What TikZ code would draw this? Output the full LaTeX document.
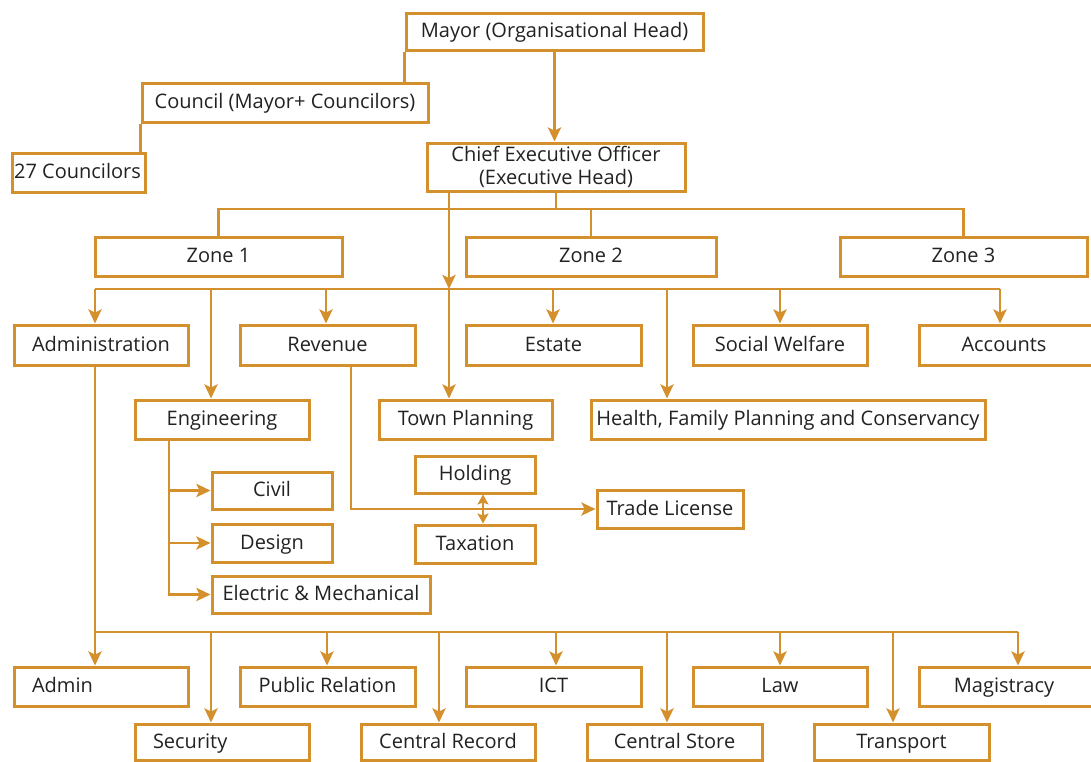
\documentclass[tikz,border=0pt]{standalone}
\usepackage{fontspec}
\setmainfont{Open Sans}
\usetikzlibrary{arrows.meta}
\definecolor{gold}{HTML}{D4902C}
\definecolor{ink}{HTML}{222222}
% \orgbox[options]{name}{x1}{x2}{y1}{y2}{text}
\newcommand\orgbox[7][]{%
  \node[box,minimum width={#4-#3},minimum height={#6-#5},#1] (#2) at ({(#3+#4)/2},{(#5+#6)/2}) {#7};}
\begin{document}
\begin{tikzpicture}[x=1pt,y=-1pt,
  box/.style={draw=gold, line width=3pt, fill=white, inner sep=0pt, text=ink,
              font=\fontsize{20}{23}\selectfont, align=center,
              text height=15.5pt, text depth=3pt},
  lefttext/.style={text width=#1, align=left, inner xsep=18pt},
  wire/.style={draw=gold, line width=2.8pt},
  tip/.tip={Stealth[inset=3pt,length=14pt,width=13pt]},
  smalltip/.tip={Stealth[inset=2pt,length=10pt,width=11pt]},
  arr/.style={wire, -tip},
  darr/.style={wire, smalltip-smalltip},
]
\useasboundingbox (0,0) rectangle (1091,761);
\fill[white] (0,0) rectangle (1091,761);

% x positions of the vertical connectors
\coordinate (xa) at (95,0);
\coordinate (xe) at (211,0);
\coordinate (xr) at (326,0);
\coordinate (xv) at (351,0);
\coordinate (xt) at (449,0);
\coordinate (xs) at (553,0);
\coordinate (xh) at (667,0);
\coordinate (xw) at (780,0);
\coordinate (xc) at (1000,0);
\coordinate (xg) at (169,0);
\coordinate (xq) at (483,0);
\coordinate (b1) at (211,0);
\coordinate (b2) at (327,0);
\coordinate (b3) at (439,0);
\coordinate (b4) at (556,0);
\coordinate (b5) at (667,0);
\coordinate (b6) at (780,0);
\coordinate (b7) at (893,0);
\coordinate (b8) at (1018,0);
% bus levels
\coordinate (zbus) at (0,209);
\coordinate (dbus) at (0,289);
\coordinate (bbus) at (0,632);

% ---- boxes
\orgbox{mayor}{406}{703}{13}{50}{Mayor (Organisational Head)}
\orgbox{council}{142}{428}{83}{122}{Council (Mayor+ Councilors)}
\orgbox{c27}{12}{145}{153}{192}{\hspace*{-2pt}27 Councilors}
\orgbox[text height={}, text depth={}]{ceo}{427}{685}{143}{191}{Chief Executive Officer\\(Executive Head)}
\orgbox{zone1}{95}{342}{237}{276}{Zone 1}
\orgbox{zone2}{466}{716}{237}{276}{Zone 2}
\orgbox{zone3}{840}{1087}{237}{276}{Zone 3}
\orgbox{admin}{14}{188}{325}{365}{Administration}
\orgbox{revenue}{240}{415}{325}{365}{Revenue}
\orgbox{estate}{466}{641}{325}{365}{Estate}
\orgbox{social}{693}{867}{325}{365}{Social Welfare}
\orgbox{accounts}{919}{1095}{325}{365}{\hspace*{-6pt}Accounts}
\orgbox{engineering}{135}{309}{400}{439}{Engineering}
\orgbox{townplan}{379}{552}{400}{439}{Town Planning}
\orgbox{health}{591}{985}{400}{439}{Health, Family Planning and Conservancy}
\orgbox{holding}{415}{535}{456}{493}{Holding}
\orgbox{taxation}{415}{535}{525}{563}{Taxation}
\orgbox{trade}{597}{743}{490}{528}{Trade License}
\orgbox{civil}{212}{332}{472}{509}{Civil}
\orgbox{design}{212}{332}{524}{562}{Design}
\orgbox{elec}{212}{430}{576}{613}{Electric \& Mechanical}
\orgbox[lefttext=138pt]{adm}{14}{188}{667}{706}{Admin}
\orgbox{pr}{240}{415}{667}{706}{Public Relation}
\orgbox{ict}{466}{641}{667}{706}{ICT}
\orgbox{law}{693}{867}{667}{706}{Law}
\orgbox{magis}{919}{1095}{667}{706}{\hspace*{-6pt}Magistracy}
\orgbox[lefttext=138pt]{security}{135}{309}{724}{760}{Security}
\orgbox{crecord}{361}{535}{724}{760}{Central Record}
\orgbox{cstore}{587}{762}{724}{760}{Central Store}
\orgbox{transport}{814}{989}{724}{760}{Transport}

% ---- connectors between the boxes
\draw[wire] (mayor.south west) -- (mayor.south west |- council.north);
\draw[wire] (council.south west) -- (council.south west |- c27.north);
\draw[arr] (mayor.south) -- (mayor.south |- ceo.north);

\draw[wire] (ceo.south) -- (ceo.south |- zbus);
\draw[wire] (zone1.north) |- (ceo.south |- zbus) -| (zone3.north);
\draw[wire] (zone2.north) -- (zone2.north |- zbus);

\draw[arr] (xt |- ceo.south) -- (xt |- dbus);
\draw[arr] (xt |- dbus) -- (xt |- townplan.north);
\draw[wire] (xa |- dbus) -- (xc |- dbus);
\draw[arr] (xa |- dbus) -- (xa |- admin.north);
\draw[arr] (xe |- dbus) -- (xe |- engineering.north);
\draw[arr] (xr |- dbus) -- (xr |- revenue.north);
\draw[arr] (xs |- dbus) -- (xs |- estate.north);
\draw[arr] (xh |- dbus) -- (xh |- health.north);
\draw[arr] (xw |- dbus) -- (xw |- social.north);
\draw[arr] (xc |- dbus) -- (xc |- accounts.north);

\draw[arr] (xv |- revenue.south) |- (trade.west);
\draw[darr] (xq |- holding.south) -- (xq |- taxation.north);

\draw[arr] (xg |- engineering.south) |- (elec.west);
\draw[arr] (xg |- civil.west) -- (civil.west);
\draw[arr] (xg |- design.west) -- (design.west);

\draw[wire] (xa |- admin.south) -- (xa |- bbus) -- (b8 |- bbus);
\draw[arr] (xa |- bbus) -- (xa |- adm.north);
\draw[arr] (b1 |- bbus) -- (b1 |- security.north);
\draw[arr] (b2 |- bbus) -- (b2 |- pr.north);
\draw[arr] (b3 |- bbus) -- (b3 |- crecord.north);
\draw[arr] (b4 |- bbus) -- (b4 |- ict.north);
\draw[arr] (b5 |- bbus) -- (b5 |- cstore.north);
\draw[arr] (b6 |- bbus) -- (b6 |- law.north);
\draw[arr] (b7 |- bbus) -- (b7 |- transport.north);
\draw[arr] (b8 |- bbus) -- (b8 |- magis.north);
\end{tikzpicture}
\end{document}
